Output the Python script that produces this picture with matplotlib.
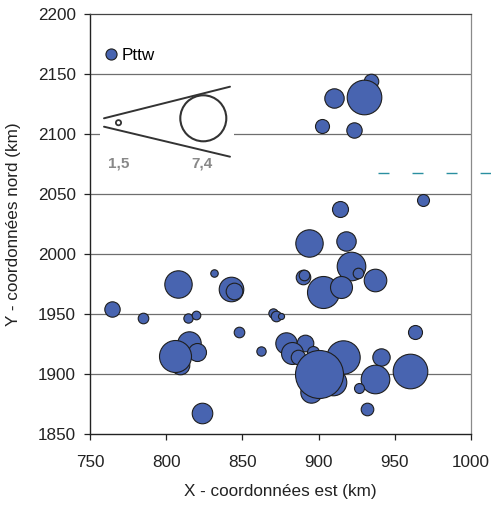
import matplotlib
matplotlib.use("Agg")
import matplotlib.pyplot as plt
from matplotlib.lines import Line2D
from matplotlib.patches import Circle, Rectangle

# Bubble data: easting / northing (km) and Pttw value
x_est = [764.2, 785.0, 808.0, 831.6, 842.5, 844.7, 814.5, 819.6, 847.6, 862.2,
         870.3, 872.0, 875.0, 815.0, 820.4, 809.0, 805.8, 823.5, 968.7, 914.0,
         893.7, 918.0, 921.3, 925.6, 937.0, 890.0, 890.6, 903.1, 914.5, 878.4,
         891.0, 882.3, 886.7, 896.5, 915.8, 909.7, 895.0, 900.5, 940.9, 937.0,
         926.3, 932.0, 960.0, 963.2, 934.2, 930.0, 910.1, 902.0, 923.4]
y_nord = [1954.2, 1946.4, 1974.7, 1984.4, 1970.6, 1969.4, 1946.7, 1949.0, 1934.7, 1919.4,
          1950.8, 1948.0, 1948.0, 1926.0, 1918.0, 1907.5, 1915.3, 1867.2, 2045.0, 2037.3,
          2008.9, 2011.1, 1990.0, 1984.4, 1978.3, 1980.6, 1982.2, 1968.6, 1972.2, 1926.1,
          1925.6, 1917.2, 1914.4, 1918.6, 1914.4, 1893.6, 1885.3, 1900.0, 1914.4, 1895.8,
          1888.6, 1870.6, 1902.5, 1934.7, 2144.2, 2131.1, 2130.3, 2107.0, 2103.3]
pttw = [0.76, 0.36, 2.41, 0.18, 1.94, 0.89, 0.28, 0.24, 0.36, 0.28,
        0.28, 0.36, 0.12, 1.76, 1.04, 1.11, 3.29, 1.36, 0.46, 0.82,
        2.41, 1.21, 2.63, 0.36, 1.64, 0.68, 0.36, 3.29, 1.55, 1.47,
        0.89, 1.55, 0.68, 0.46, 3.58, 2.27, 1.47, 7.40, 0.97, 2.63,
        0.32, 0.51, 3.85, 0.63, 0.68, 3.85, 1.21, 0.63, 0.76]

x_ticks = [750, 800, 850, 900, 950, 1000]
y_ticks = [1850, 1900, 1950, 2000, 2050, 2100, 2150, 2200]
legend_scale = ["1,5", "7,4"]

FILL = "#4864B0"
EDGE = "#1e1e1e"
TEXT = "#222222"
AREA_PER_UNIT = 161.4  # points^2 per Pttw unit
FS = 12.3

plt.rcParams["font.family"] = ["Liberation Sans", "DejaVu Sans"]

fig = plt.figure(figsize=(4.91, 5.05), dpi=100)
W, H = 491, 505
ax = fig.add_axes([90 / W, 1 - 434 / H, 381 / W, 420 / H])

ax.set_xlim(x_ticks[0], x_ticks[-1])
ax.set_ylim(y_ticks[0], y_ticks[-1])
ax.set_xticks(x_ticks)
ax.set_yticks(y_ticks)
ax.tick_params(direction="out", length=4.3, width=0.9, labelsize=FS, colors=TEXT)
ax.tick_params(axis="x", pad=11)
ax.tick_params(axis="y", pad=6)

for yv in y_ticks[1:-1]:
    ax.axhline(yv, color="#6e6e6e", lw=0.9, zorder=1)

for side in ("left", "bottom"):
    ax.spines[side].set_color(TEXT)
    ax.spines[side].set_linewidth(1.0)
ax.spines["top"].set_color("#444444")
ax.spines["top"].set_linewidth(0.9)
ax.spines["right"].set_color("#8a8a8a")
ax.spines["right"].set_linewidth(0.9)

sizes = [AREA_PER_UNIT * v for v in pttw]
for i in range(len(x_est)):
    ax.scatter([x_est[i]], [y_nord[i]], s=[sizes[i]], c=FILL, edgecolors=EDGE,
               linewidths=0.8, zorder=3 + i * 0.01)

ax.set_xlabel("X - coordonnées est (km)", fontsize=FS, color=TEXT, labelpad=10)
ax.set_ylabel("Y - coordonnées nord (km)", fontsize=FS, color=TEXT, labelpad=12)

# legend entry
handle = Line2D([], [], marker="o", ls="", markerfacecolor=FILL, markeredgecolor=EDGE,
                markeredgewidth=0.8, markersize=8)
ax.legend([handle], ["Pttw"], loc="center left", bbox_to_anchor=(104 / W, 1 - 55 / H),
          bbox_transform=fig.transFigure, frameon=False, handlelength=0.8,
          handletextpad=0.25, borderpad=0, borderaxespad=0, fontsize=FS)

# bubble scale sketch
ins = fig.add_axes([100 / W, 1 - 172 / H, 134 / W, 92 / H])
ins.set_xlim(100, 234)
ins.set_ylim(172, 80)
ins.axis("off")
ins.add_patch(Rectangle((100, 80), 134, 92, facecolor="white", edgecolor="none", zorder=0))
ins.plot([104, 230], [118.3, 86.7], color="#333333", lw=1.4, solid_capstyle="round")
ins.plot([104, 230], [126.7, 156.7], color="#333333", lw=1.4, solid_capstyle="round")
ins.add_patch(Circle((118.5, 122.7), 2.6, fill=False, edgecolor="#333333", lw=1.3))
ins.add_patch(Circle((203.3, 118.3), 23.0, fill=False, edgecolor="#333333", lw=1.5))
ins.text(119, 163, legend_scale[0], ha="center", va="center", fontsize=11,
         color="#888888", fontweight="bold")
ins.text(202, 163, legend_scale[1], ha="center", va="center", fontsize=11,
         color="#888888", fontweight="bold")

# dashed rule at the right edge
fig.add_artist(Line2D([378 / W, 1.0], [1 - 173 / H, 1 - 173 / H], transform=fig.transFigure,
                      color="#2a8fa0", lw=1.0, dashes=(7.9, 16.6)))

fig.savefig("out.png", dpi=100)
